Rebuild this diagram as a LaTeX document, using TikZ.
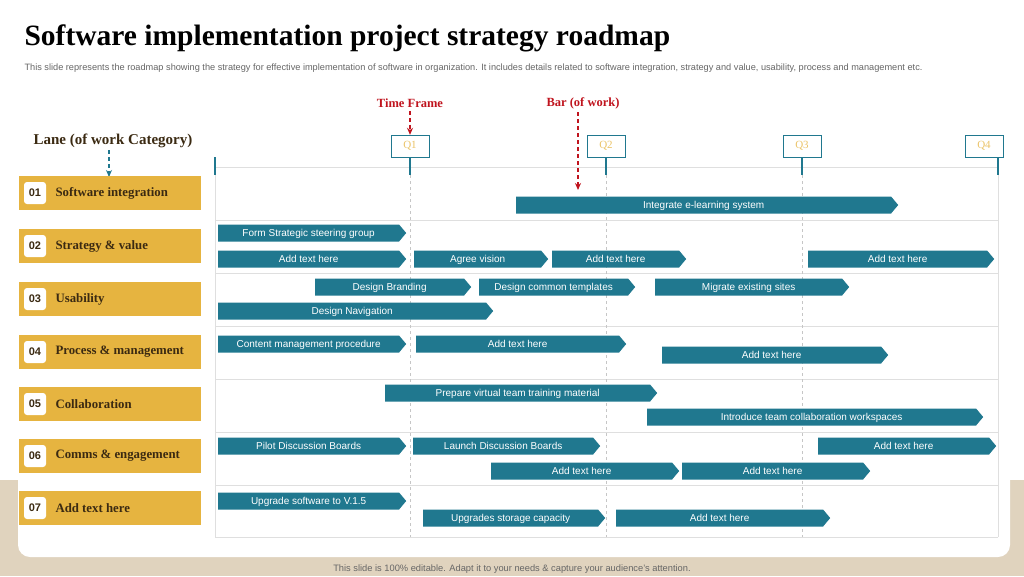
\documentclass[tikz,border=0pt]{standalone}
\usepackage{fontspec}
\setmainfont{Liberation Sans}
\newfontfamily\ser{Liberation Serif}
\usetikzlibrary{shapes.symbols,arrows.meta}
\definecolor{teal}{HTML}{20788F}
\definecolor{gold}{HTML}{E6B440}
\definecolor{beige}{HTML}{E0D3BE}
\definecolor{brn}{HTML}{3B2A12}
\definecolor{red1}{HTML}{C0141E}
\tikzset{
 bar/.style={signal, signal to=east, signal pointer angle=100, fill=teal, text=white, font=\fontsize{10}{10}\selectfont, minimum height=17pt, inner sep=0pt, text height=7.5pt, text depth=1.5pt, anchor=west},
 lane/.style={fill=gold, minimum width=182pt, minimum height=34pt, anchor=west, inner sep=0pt},
 num/.style={fill=white, rounded corners=3pt, minimum width=22pt, minimum height=22pt, font=\bfseries\fontsize{11}{11}\selectfont, text=brn, inner sep=0pt},
 lt/.style={font=\ser\bfseries\fontsize{12.8}{13}\selectfont, text=brn, anchor=west},
 qb/.style={draw=teal, fill=white, minimum width=38pt, minimum height=22pt, text=gold!80, font=\ser\fontsize{11}{11}\selectfont, inner sep=0pt},
 grid/.style={draw=gray!25, line width=0.8pt},
 qline/.style={draw=gray!45, dashed, line width=0.5pt},
 dar/.style={dashed, dash pattern=on 4pt off 3pt, line width=1.3pt, -{Stealth[length=7pt,width=6pt]}},
}
\newcommand{\bb}[5]{\node[bar, minimum width={#3-#2}] (#1) at (#2,#4) {#5};}
\begin{document}
\begin{tikzpicture}[x=1pt,y=-1pt]
\useasboundingbox (0,0) rectangle (1024,576);
\fill[white] (0,0) rectangle (1024,576);
\fill[beige] (0,480) rectangle (1024,576);
\fill[white,rounded corners=12pt] (18,88) rectangle (1010,557);
\node[font=\ser\bfseries\fontsize{29.5}{30}\selectfont, anchor=west] (title) at (21,38) {Software implementation project strategy roadmap};
\node[font=\fontsize{9.2}{10}\selectfont, text=gray!80!black, anchor=west] (sub) at (21,68) {This slide represents the roadmap showing the strategy for effective implementation of software in organization. It includes details related to software integration, strategy and value, usability, process and management etc.};
\node[font=\fontsize{9.3}{10}\selectfont, text=gray!80!black] (foot) at (512,569) {This slide is 100\% editable. Adapt it to your needs \& capture your audience's attention.};
% grid
\foreach \y in {167,220,273,326,379,432,485,537} \draw[grid] (215,\y) -- (998,\y);
\draw[grid] (215,167) -- (215,537);
\foreach \x in {410,606,802} \draw[qline] (\x,175) -- (\x,537);
\draw[grid] (998,167) -- (998,537);
\foreach \x in {215,410,606,802,998} \draw[teal, line width=1.5pt] (\x,157) -- (\x,175);
\node[qb] (q1) at (410,146) {Q1};
\node[qb] (q2) at (606,146) {Q2};
\node[qb] (q3) at (802,146) {Q3};
\node[qb] (q4) at (984,146) {Q4};
% labels
\node[font=\ser\bfseries\fontsize{12.5}{13}\selectfont, text=red1] (tf) at (410,103) {Time Frame};
\draw[red1, dar] (tf) -- (q1);
\node[font=\ser\bfseries\fontsize{12.5}{13}\selectfont, text=red1] (bw) at (583,103) {Bar (of work)};
\coordinate (bwe) at (578,190);
\draw[red1, dar] (578,112) -- (bwe);
\node[font=\ser\bfseries\fontsize{15}{15}\selectfont, text=brn] (lc) at (113,141) {Lane (of work Category)};
\coordinate (lce) at (109,177);
\draw[teal, dar] (109,150) -- (lce);
% lanes
\foreach \i/\y/\t in {1/193/Software integration,2/246/Strategy \& value,3/299/Usability,4/352/Process \& management,5/404/Collaboration,6/456/Comms \& engagement,7/508/Add text here}{
 \node[lane] (l\i) at (19,\y) {};
 \node[num] (n\i) at (35,\y) {0\i};
 \node[lt] (t\i) at (52,\y) {\t};
}
% bars
\bb{a1}{516}{898}{205}{Integrate e-learning system}
\bb{b1}{218}{406}{233}{Form Strategic steering group}
\bb{b2}{218}{406}{259}{Add text here}
\bb{b3}{414}{548}{259}{Agree vision}
\bb{b4}{552}{686}{259}{Add text here}
\bb{b5}{808}{994}{259}{Add text here}
\bb{c1}{315}{471}{287}{Design Branding}
\bb{c2}{479}{635}{287}{Design common templates}
\bb{c3}{655}{849}{287}{Migrate existing sites}
\bb{c4}{218}{493}{311}{Design Navigation}
\bb{d1}{218}{406}{344}{Content management procedure}
\bb{d2}{416}{626}{344}{Add text here}
\bb{d3}{662}{888}{355}{Add text here}
\bb{e1}{385}{657}{393}{Prepare virtual team training material}
\bb{e2}{647}{983}{417}{Introduce team collaboration workspaces}
\bb{f1}{218}{406}{446}{Pilot Discussion Boards}
\bb{f2}{413}{600}{446}{Launch Discussion Boards}
\bb{f3}{818}{996}{446}{Add text here}
\bb{f4}{491}{679}{471}{Add text here}
\bb{f5}{682}{870}{471}{Add text here}
\bb{g1}{218}{406}{501}{Upgrade software to V.1.5}
\bb{g2}{423}{605}{518}{Upgrades storage capacity}
\bb{g3}{616}{830}{518}{Add text here}
\end{tikzpicture}
\end{document}
